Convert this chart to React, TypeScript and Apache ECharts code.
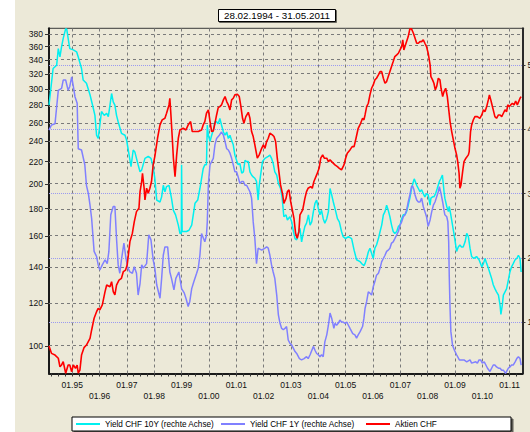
import React, { useEffect, useRef } from 'react';
import * as echarts from 'echarts';

// ---- axis ranges and tick labels ----
const xStart = 1994.15; // 28.02.1994 (decimal year)
const xEnd = 2011.47;
const leftMin = 88.9;
const leftMax = 389.3;
const rightMin = 0.198;
const rightMax = 5.576;
const leftTicks = [100, 120, 140, 160, 180, 200, 220, 240, 260, 280, 300, 320, 340, 360, 380];
const rightTicks = [1, 2, 3, 4, 5];
const januaryTicks = [1995, 1996, 1997, 1998, 1999, 2000, 2001, 2002, 2003, 2004, 2005, 2006, 2007, 2008, 2009, 2010, 2011];
const titleText = '28.02.1994 - 31.05.2011';
const names = ['Yield CHF 10Y (rechte Achse)', 'Yield CHF 1Y (rechte Achse)', 'Aktien CHF'];
const colors = ['#00f0f0', '#8080ff', '#ff0000'];

// ---- series: [decimal year, value] ----
const aktienCHF: [number, number][] = [
  [1994.15,100.0],[1994.24,96.9],[1994.37,96.2],[1994.49,94.9],[1994.55,91.5],[1994.61,92.2],[1994.67,93.5],[1994.76,89.0],[1994.85,92.2],[1994.91,92.2],[1994.98,89.6],[1995.04,92.2],[1995.12,90.9],[1995.18,92.2],[1995.22,89.0],[1995.28,90.2],[1995.34,96.2],[1995.43,99.3],[1995.52,100.4],[1995.65,103.3],[1995.71,107.1],[1995.80,112.6],[1995.89,115.8],[1995.95,117.5],[1996.01,116.7],[1996.10,119.2],[1996.20,126.2],[1996.26,129.8],[1996.38,128.9],[1996.44,131.7],[1996.50,126.2],[1996.56,124.4],[1996.62,129.8],[1996.71,132.6],[1996.80,133.6],[1996.87,137.5],[1996.95,138.4],[1997.01,141.4],[1997.11,156.3],[1997.20,162.0],[1997.27,170.2],[1997.35,177.7],[1997.44,180.3],[1997.48,193.6],[1997.54,202.1],[1997.57,209.4],[1997.63,196.4],[1997.66,186.8],[1997.72,196.4],[1997.78,192.2],[1997.84,196.4],[1997.90,202.1],[1997.96,217.0],[1998.02,224.9],[1998.12,243.2],[1998.21,257.5],[1998.29,263.1],[1998.39,264.9],[1998.45,270.7],[1998.54,280.5],[1998.57,288.6],[1998.61,268.7],[1998.66,243.2],[1998.70,223.3],[1998.76,206.4],[1998.82,226.5],[1998.88,243.2],[1998.94,252.0],[1999.06,253.8],[1999.16,252.0],[1999.24,257.5],[1999.33,261.2],[1999.39,250.3],[1999.49,250.3],[1999.61,250.3],[1999.73,252.0],[1999.79,257.5],[1999.85,261.2],[1999.91,270.7],[1999.98,274.6],[2000.04,261.2],[2000.10,250.3],[2000.16,251.0],[2000.22,259.3],[2000.28,268.7],[2000.34,277.3],[2000.40,278.5],[2000.46,280.5],[2000.53,286.6],[2000.59,290.7],[2000.65,284.5],[2000.71,280.5],[2000.77,274.6],[2000.83,286.6],[2000.89,288.6],[2000.95,292.8],[2001.04,293.6],[2001.11,290.7],[2001.16,280.5],[2001.23,264.9],[2001.28,259.3],[2001.35,266.8],[2001.44,271.8],[2001.50,264.9],[2001.56,250.3],[2001.62,245.0],[2001.68,236.4],[2001.77,223.3],[2001.84,226.5],[2001.93,233.0],[2001.99,236.4],[2002.05,233.0],[2002.11,239.8],[2002.17,243.2],[2002.23,248.5],[2002.32,246.7],[2002.38,245.0],[2002.44,239.8],[2002.50,223.3],[2002.56,210.9],[2002.62,199.2],[2002.70,190.8],[2002.74,184.1],[2002.82,188.1],[2002.87,193.6],[2002.93,195.0],[2002.99,185.5],[2003.05,179.0],[2003.11,172.7],[2003.17,162.0],[2003.23,158.5],[2003.29,163.1],[2003.33,175.2],[2003.43,179.0],[2003.51,188.1],[2003.57,193.6],[2003.63,196.4],[2003.72,197.8],[2003.78,196.4],[2003.84,202.1],[2003.94,207.9],[2004.03,213.9],[2004.09,223.3],[2004.16,226.5],[2004.22,223.3],[2004.31,223.3],[2004.37,220.1],[2004.43,221.7],[2004.49,220.1],[2004.61,217.0],[2004.70,215.4],[2004.77,213.9],[2004.85,212.4],[2004.94,217.0],[2005.00,223.3],[2005.06,228.1],[2005.16,231.4],[2005.24,234.7],[2005.31,234.7],[2005.38,243.2],[2005.46,253.8],[2005.55,259.3],[2005.62,264.9],[2005.67,263.1],[2005.71,268.7],[2005.77,278.5],[2005.83,282.5],[2005.89,292.8],[2005.95,301.2],[2006.01,305.6],[2006.07,312.2],[2006.13,314.4],[2006.20,318.9],[2006.26,323.5],[2006.32,323.5],[2006.38,314.4],[2006.44,307.7],[2006.50,309.9],[2006.56,316.6],[2006.62,323.5],[2006.68,330.5],[2006.74,337.6],[2006.80,344.9],[2006.87,347.4],[2006.93,349.9],[2006.99,354.9],[2007.05,360.0],[2007.09,370.5],[2007.13,354.9],[2007.17,360.0],[2007.23,367.8],[2007.29,375.8],[2007.35,388.3],[2007.41,388.3],[2007.48,381.2],[2007.54,373.1],[2007.60,365.2],[2007.66,365.2],[2007.72,367.8],[2007.78,367.8],[2007.84,370.5],[2007.90,365.2],[2007.96,360.0],[2008.02,349.9],[2008.09,332.9],[2008.12,316.6],[2008.18,312.2],[2008.23,307.7],[2008.28,299.1],[2008.33,303.4],[2008.39,314.4],[2008.45,312.2],[2008.49,301.2],[2008.55,290.7],[2008.60,297.0],[2008.66,301.2],[2008.72,290.7],[2008.76,278.5],[2008.82,261.2],[2008.88,250.3],[2008.94,241.5],[2009.00,233.0],[2009.06,226.5],[2009.10,220.1],[2009.15,209.4],[2009.18,196.4],[2009.22,199.2],[2009.28,210.9],[2009.33,220.1],[2009.40,223.3],[2009.49,226.5],[2009.52,229.7],[2009.57,250.3],[2009.61,257.5],[2009.67,263.1],[2009.73,266.8],[2009.82,266.8],[2009.91,264.9],[2009.98,268.7],[2010.04,274.6],[2010.10,272.6],[2010.16,278.5],[2010.22,286.6],[2010.26,292.8],[2010.31,286.6],[2010.34,282.5],[2010.40,274.6],[2010.46,266.8],[2010.52,264.9],[2010.59,268.7],[2010.65,268.7],[2010.71,266.8],[2010.77,270.7],[2010.83,274.6],[2010.89,272.6],[2010.93,280.5],[2010.99,278.5],[2011.04,280.5],[2011.10,282.5],[2011.16,280.5],[2011.22,285.3],[2011.28,280.5],[2011.33,284.5],[2011.38,288.6],[2011.42,290.7]
];

const yield10Y: [number, number][] = [
  [1994.15,4.38],[1994.30,4.95],[1994.43,5.00],[1994.49,5.26],[1994.55,5.13],[1994.61,5.29],[1994.67,5.42],[1994.76,5.57],[1994.80,5.56],[1994.85,5.42],[1994.91,5.26],[1995.04,5.24],[1995.16,5.21],[1995.22,5.13],[1995.34,4.95],[1995.40,4.77],[1995.52,4.72],[1995.65,4.54],[1995.77,4.33],[1995.83,4.22],[1995.89,3.91],[1995.95,3.86],[1996.01,4.07],[1996.07,4.28],[1996.17,4.22],[1996.26,4.25],[1996.32,4.20],[1996.38,4.38],[1996.44,4.56],[1996.50,4.43],[1996.56,4.38],[1996.62,4.22],[1996.68,4.12],[1996.80,3.94],[1996.93,3.91],[1996.99,3.83],[1997.05,3.68],[1997.15,3.42],[1997.23,3.68],[1997.29,3.65],[1997.35,3.55],[1997.41,3.45],[1997.48,3.34],[1997.54,3.37],[1997.66,3.55],[1997.78,3.58],[1997.88,3.55],[1997.96,3.42],[1998.02,3.24],[1998.09,2.90],[1998.21,2.87],[1998.27,2.95],[1998.33,3.13],[1998.39,3.03],[1998.45,3.11],[1998.54,3.13],[1998.63,2.93],[1998.70,2.74],[1998.78,2.67],[1998.88,2.51],[1998.94,2.38],[1998.99,2.38],[1999.00,3.45],[1999.02,2.41],[1999.18,2.41],[1999.27,2.43],[1999.37,2.51],[1999.49,2.85],[1999.59,2.90],[1999.67,3.08],[1999.79,3.39],[1999.85,3.45],[1999.91,3.45],[1999.94,4.07],[1999.98,3.91],[2000.04,3.81],[2000.10,3.91],[2000.16,3.99],[2000.22,4.12],[2000.28,4.12],[2000.34,4.09],[2000.40,4.17],[2000.46,4.07],[2000.53,3.96],[2000.59,3.91],[2000.65,3.96],[2000.71,3.86],[2000.77,3.91],[2000.83,3.83],[2000.89,3.76],[2000.95,3.60],[2001.01,3.52],[2001.07,3.45],[2001.13,3.47],[2001.20,3.32],[2001.26,3.34],[2001.32,3.52],[2001.38,3.50],[2001.44,3.50],[2001.50,3.34],[2001.56,3.29],[2001.62,3.26],[2001.68,3.24],[2001.74,3.19],[2001.80,2.90],[2001.84,3.13],[2001.89,3.29],[2001.96,3.50],[2002.05,3.55],[2002.17,3.58],[2002.23,3.60],[2002.29,3.55],[2002.35,3.47],[2002.41,3.34],[2002.48,3.29],[2002.54,3.16],[2002.62,3.08],[2002.68,2.93],[2002.74,2.64],[2002.82,2.67],[2002.87,2.59],[2002.96,2.64],[2003.03,2.56],[2003.09,2.41],[2003.15,2.30],[2003.21,2.28],[2003.27,2.38],[2003.33,2.46],[2003.39,2.25],[2003.45,2.38],[2003.51,2.49],[2003.57,2.54],[2003.64,2.67],[2003.70,2.51],[2003.76,2.56],[2003.82,2.72],[2003.88,2.85],[2003.94,2.90],[2004.00,2.77],[2004.06,2.67],[2004.12,2.74],[2004.18,2.61],[2004.24,2.54],[2004.31,2.61],[2004.37,2.72],[2004.43,3.08],[2004.49,2.98],[2004.55,2.87],[2004.64,2.72],[2004.70,2.61],[2004.77,2.56],[2004.85,2.41],[2004.91,2.33],[2005.00,2.30],[2005.10,2.33],[2005.22,2.30],[2005.31,2.12],[2005.40,1.97],[2005.53,1.94],[2005.61,1.90],[2005.67,1.88],[2005.71,1.91],[2005.77,1.99],[2005.83,2.09],[2005.89,2.15],[2005.95,2.07],[2006.01,1.99],[2006.07,2.15],[2006.13,2.20],[2006.20,2.30],[2006.26,2.41],[2006.32,2.51],[2006.38,2.67],[2006.44,2.72],[2006.50,2.82],[2006.56,2.74],[2006.62,2.64],[2006.68,2.51],[2006.74,2.41],[2006.80,2.38],[2006.87,2.41],[2006.93,2.49],[2006.99,2.51],[2007.05,2.61],[2007.11,2.67],[2007.17,2.67],[2007.23,2.72],[2007.29,2.82],[2007.35,2.93],[2007.41,3.08],[2007.48,3.19],[2007.51,3.23],[2007.60,3.13],[2007.66,3.08],[2007.72,3.03],[2007.78,3.06],[2007.84,3.00],[2007.90,2.95],[2007.96,3.00],[2008.02,2.98],[2008.09,2.82],[2008.12,2.93],[2008.18,2.95],[2008.23,2.95],[2008.29,3.00],[2008.35,3.08],[2008.43,3.19],[2008.49,3.24],[2008.54,3.29],[2008.60,3.03],[2008.63,2.93],[2008.70,2.80],[2008.76,2.72],[2008.79,2.80],[2008.84,2.69],[2008.91,2.51],[2008.98,2.33],[2009.06,2.10],[2009.12,2.17],[2009.18,2.20],[2009.24,2.17],[2009.30,2.17],[2009.37,2.25],[2009.43,2.38],[2009.49,2.33],[2009.55,2.15],[2009.61,2.02],[2009.69,1.99],[2009.79,2.02],[2009.88,1.97],[2009.98,1.86],[2010.04,1.91],[2010.10,1.99],[2010.16,1.91],[2010.22,1.84],[2010.28,1.76],[2010.34,1.68],[2010.40,1.58],[2010.46,1.52],[2010.52,1.47],[2010.59,1.42],[2010.65,1.26],[2010.68,1.12],[2010.73,1.26],[2010.77,1.42],[2010.83,1.47],[2010.89,1.52],[2010.95,1.65],[2011.01,1.78],[2011.07,1.86],[2011.13,1.91],[2011.20,1.97],[2011.26,1.99],[2011.32,2.04],[2011.38,1.99],[2011.42,1.78]
];

const yield1Y: [number, number][] = [
  [1994.15,3.99],[1994.24,4.07],[1994.37,4.09],[1994.49,4.61],[1994.61,4.64],[1994.67,4.77],[1994.76,4.77],[1994.85,4.61],[1994.91,4.67],[1994.98,4.82],[1995.04,4.67],[1995.10,4.51],[1995.18,4.41],[1995.22,3.70],[1995.34,3.68],[1995.46,3.45],[1995.52,3.13],[1995.59,3.00],[1995.65,2.82],[1995.71,2.61],[1995.80,2.10],[1995.89,2.02],[1995.95,1.89],[1996.01,1.81],[1996.10,1.89],[1996.20,1.97],[1996.28,1.91],[1996.34,2.10],[1996.41,2.67],[1996.50,2.80],[1996.56,2.80],[1996.62,2.30],[1996.68,1.89],[1996.74,1.76],[1996.80,1.97],[1996.89,2.23],[1996.95,2.04],[1997.02,1.86],[1997.11,1.78],[1997.20,1.76],[1997.27,1.86],[1997.35,1.76],[1997.41,1.42],[1997.48,1.60],[1997.54,1.89],[1997.60,1.84],[1997.72,1.91],[1997.80,2.36],[1997.88,2.28],[1997.96,1.97],[1998.02,1.84],[1998.09,1.58],[1998.21,1.37],[1998.27,1.68],[1998.33,2.04],[1998.39,2.17],[1998.49,2.17],[1998.57,1.78],[1998.63,1.68],[1998.72,1.50],[1998.79,1.68],[1998.90,1.78],[1999.00,1.52],[1999.10,1.45],[1999.18,1.34],[1999.24,1.24],[1999.30,1.32],[1999.37,1.52],[1999.45,1.63],[1999.55,1.76],[1999.61,1.84],[1999.67,2.04],[1999.73,2.38],[1999.85,2.25],[1999.91,2.35],[1999.94,2.56],[1999.98,3.16],[2000.04,3.45],[2000.10,3.50],[2000.16,3.55],[2000.22,3.76],[2000.28,3.86],[2000.38,3.91],[2000.46,3.96],[2000.53,3.91],[2000.59,3.81],[2000.65,3.70],[2000.71,3.68],[2000.77,3.63],[2000.83,3.55],[2000.89,3.45],[2000.95,3.34],[2001.01,3.34],[2001.07,3.26],[2001.13,3.16],[2001.20,3.19],[2001.26,3.19],[2001.32,3.13],[2001.38,3.13],[2001.44,3.08],[2001.50,3.03],[2001.56,2.93],[2001.62,2.56],[2001.68,2.30],[2001.72,2.04],[2001.74,1.91],[2001.80,2.15],[2001.93,2.12],[2002.05,2.15],[2002.11,2.17],[2002.17,2.15],[2002.23,2.04],[2002.29,1.89],[2002.35,1.78],[2002.41,1.68],[2002.48,1.42],[2002.54,1.11],[2002.60,0.98],[2002.66,0.90],[2002.72,0.88],[2002.78,0.90],[2002.84,0.93],[2002.90,0.72],[2002.96,0.67],[2003.03,0.64],[2003.09,0.59],[2003.15,0.54],[2003.21,0.51],[2003.31,0.43],[2003.39,0.41],[2003.48,0.43],[2003.57,0.46],[2003.63,0.43],[2003.70,0.49],[2003.82,0.62],[2003.88,0.56],[2003.94,0.51],[2004.00,0.49],[2004.06,0.46],[2004.12,0.49],[2004.18,0.46],[2004.24,0.69],[2004.31,0.80],[2004.37,0.95],[2004.43,1.14],[2004.49,1.06],[2004.57,0.90],[2004.61,0.98],[2004.67,0.95],[2004.73,0.98],[2004.79,1.03],[2004.85,1.00],[2004.91,1.00],[2004.98,0.98],[2005.04,1.00],[2005.10,0.95],[2005.16,0.90],[2005.26,0.82],[2005.34,0.80],[2005.40,0.75],[2005.46,0.80],[2005.53,0.85],[2005.62,0.93],[2005.67,1.06],[2005.71,1.21],[2005.77,1.32],[2005.83,1.47],[2005.89,1.45],[2005.95,1.42],[2006.01,1.55],[2006.07,1.63],[2006.13,1.73],[2006.20,1.76],[2006.26,1.84],[2006.32,1.94],[2006.38,1.99],[2006.44,2.04],[2006.50,2.10],[2006.56,2.12],[2006.62,2.15],[2006.68,2.23],[2006.74,2.25],[2006.80,2.30],[2006.87,2.36],[2006.93,2.41],[2006.99,2.51],[2007.05,2.56],[2007.11,2.64],[2007.17,2.67],[2007.23,2.74],[2007.29,2.87],[2007.35,2.98],[2007.41,3.11],[2007.45,3.12],[2007.50,3.06],[2007.54,2.98],[2007.60,2.90],[2007.66,2.87],[2007.72,2.87],[2007.78,2.93],[2007.84,2.80],[2007.90,2.72],[2007.96,2.64],[2008.02,2.49],[2008.09,2.59],[2008.15,2.72],[2008.21,2.82],[2008.27,2.87],[2008.33,2.95],[2008.39,3.03],[2008.43,3.11],[2008.49,3.00],[2008.55,2.87],[2008.60,2.74],[2008.63,2.67],[2008.70,2.64],[2008.74,2.56],[2008.77,2.25],[2008.79,1.73],[2008.82,1.21],[2008.85,0.85],[2008.91,0.64],[2008.98,0.56],[2009.06,0.49],[2009.16,0.41],[2009.24,0.41],[2009.33,0.41],[2009.43,0.38],[2009.55,0.41],[2009.61,0.36],[2009.76,0.38],[2009.82,0.36],[2009.88,0.41],[2009.94,0.41],[2010.00,0.36],[2010.07,0.38],[2010.13,0.33],[2010.19,0.28],[2010.28,0.23],[2010.34,0.28],[2010.40,0.33],[2010.46,0.33],[2010.52,0.30],[2010.59,0.28],[2010.65,0.28],[2010.71,0.25],[2010.77,0.25],[2010.85,0.20],[2010.89,0.23],[2010.95,0.28],[2011.01,0.30],[2011.07,0.33],[2011.13,0.33],[2011.20,0.38],[2011.26,0.43],[2011.32,0.46],[2011.38,0.43],[2011.42,0.33]
];

const FONT = '"Liberation Sans", Arial, sans-serif';

const quarterTicks: number[] = [];
[1994, ...januaryTicks].forEach((y) => {
  [0, 0.25, 0.5, 0.75].forEach((q) => {
    const v = y + q;
    if (v >= xStart && v <= xEnd) quarterTicks.push(v);
  });
});

const gridLines = (data: any[], color: string, type: any) => ({
  silent: true,
  symbol: ['none', 'none'],
  z: 1,
  animation: false,
  label: { show: false },
  emphasis: { disabled: true },
  lineStyle: { color, width: 1, type },
  data,
});

export default function App() {
  const ref = useRef<HTMLDivElement>(null);
  useEffect(() => {
    if (!ref.current) return;
    const chart = echarts.init(ref.current, null, { renderer: 'svg' });
    const option: any = {
      animation: false,
      backgroundColor: '#ECE9D8',
      graphic: [
        { type: 'rect', left: 0, top: 0, shape: { width: 15, height: 432 }, style: { fill: '#ffffff' } },
      ],
      title: {
        text: titleText,
        left: 218,
        top: 9,
        padding: [1, 6],
        backgroundColor: '#ffffff',
        borderColor: '#000000',
        borderWidth: 1,
        shadowColor: 'rgba(0,0,0,0.55)',
        shadowOffsetX: 1,
        shadowOffsetY: 1,
        shadowBlur: 1,
        textStyle: { fontFamily: FONT, fontSize: 9.8, fontWeight: 'normal', color: '#000', lineHeight: 11 },
      },
      legend: {
        data: names.map((n) => ({ name: n, icon: 'rect' })),
        left: 72,
        top: 417,
        orient: 'horizontal',
        itemWidth: 24,
        itemHeight: 2,
        itemGap: 4,
        padding: [2, 4],
        selectedMode: false,
        backgroundColor: '#ffffff',
        borderColor: '#000000',
        borderWidth: 1,
        shadowColor: 'rgba(0,0,0,0.6)',
        shadowOffsetX: 2,
        shadowOffsetY: 2,
        shadowBlur: 1,
        textStyle: { fontFamily: FONT, fontSize: 8.2, color: '#000', width: 112, overflow: 'truncate', lineHeight: 10 },
      },
      grid: {
        left: 49,
        right: 7.5,
        top: 28.3,
        bottom: 58.5,
        show: true,
        borderColor: '#3a3a3a',
        borderWidth: 1,
        containLabel: false,
        outerBoundsMode: 'none',
      },
      xAxis: {
        type: 'value',
        min: xStart,
        max: xEnd,
        axisLine: { show: true, onZero: false, lineStyle: { color: '#1a1a1a', width: 2 } },
        axisTick: { show: true, customValues: quarterTicks, length: 3, lineStyle: { color: '#333' } },
        axisLabel: {
          customValues: januaryTicks,
          formatter: (v: number) => {
            const y = Math.round(v);
            const s = '01.' + String(y).slice(2);
            return y % 2 === 0 ? '\n' + s : s;
          },
          fontFamily: FONT,
          fontSize: 8.5,
          lineHeight: 11,
          margin: 6,
          color: '#111',
        },
        splitLine: { show: false },
      },
      yAxis: [
        {
          type: 'value',
          position: 'left',
          min: Math.log(leftMin),
          max: Math.log(leftMax),
          axisLine: { show: true, onZero: false, lineStyle: { color: '#1a1a1a', width: 2 } },
          axisTick: { show: true, customValues: leftTicks.map((t) => Math.log(t)), length: 4, lineStyle: { color: '#333' } },
          axisLabel: {
            customValues: leftTicks.map((t) => Math.log(t)),
            formatter: (v: number) => String(Math.round(Math.exp(v))),
            fontFamily: FONT,
            fontSize: 8.5,
            margin: 6,
            color: '#111',
          },
          splitLine: { show: false },
        },
        {
          type: 'value',
          position: 'right',
          min: rightMin,
          max: rightMax,
          axisLine: { show: true, onZero: false, lineStyle: { color: '#2a2a2a', width: 2 } },
          axisTick: { show: true, customValues: rightTicks, length: 3, lineStyle: { color: '#333' } },
          axisLabel: {
            customValues: rightTicks,
            formatter: (v: number) => String(v),
            fontFamily: FONT,
            fontSize: 8.5,
            margin: 5,
            color: '#111',
          },
          splitLine: { show: false },
        },
      ],
      series: [
        {
          name: names[0],
          type: 'line',
          yAxisIndex: 1,
          data: yield10Y,
          symbol: 'none',
          showSymbol: false,
          z: 2,
          color: colors[0],
          lineStyle: { color: colors[0], width: 1.5 },
          markLine: gridLines(rightTicks.map((t) => ({ yAxis: t })), '#9a9af0', [1, 1]),
        },
        {
          name: names[1],
          type: 'line',
          yAxisIndex: 1,
          data: yield1Y,
          symbol: 'none',
          showSymbol: false,
          z: 2,
          color: colors[1],
          lineStyle: { color: colors[1], width: 1.5 },
          markLine: gridLines(januaryTicks.map((t) => ({ xAxis: t })), '#7a7a7a', [3, 3]),
        },
        {
          name: names[2],
          type: 'line',
          yAxisIndex: 0,
          data: aktienCHF.map(([t, v]) => [t, Math.log(v)]),
          symbol: 'none',
          showSymbol: false,
          z: 3,
          color: colors[2],
          lineStyle: { color: colors[2], width: 1.6 },
          markLine: gridLines(leftTicks.map((t) => ({ yAxis: Math.log(t) })), '#7a7a7a', [3, 3]),
        },
      ],
    };
    chart.setOption(option);
    return () => chart.dispose();
  }, []);
  return <div ref={ref} style={{ position: 'fixed', left: 0, top: 0, width: 530, height: 432 }} />;
}
